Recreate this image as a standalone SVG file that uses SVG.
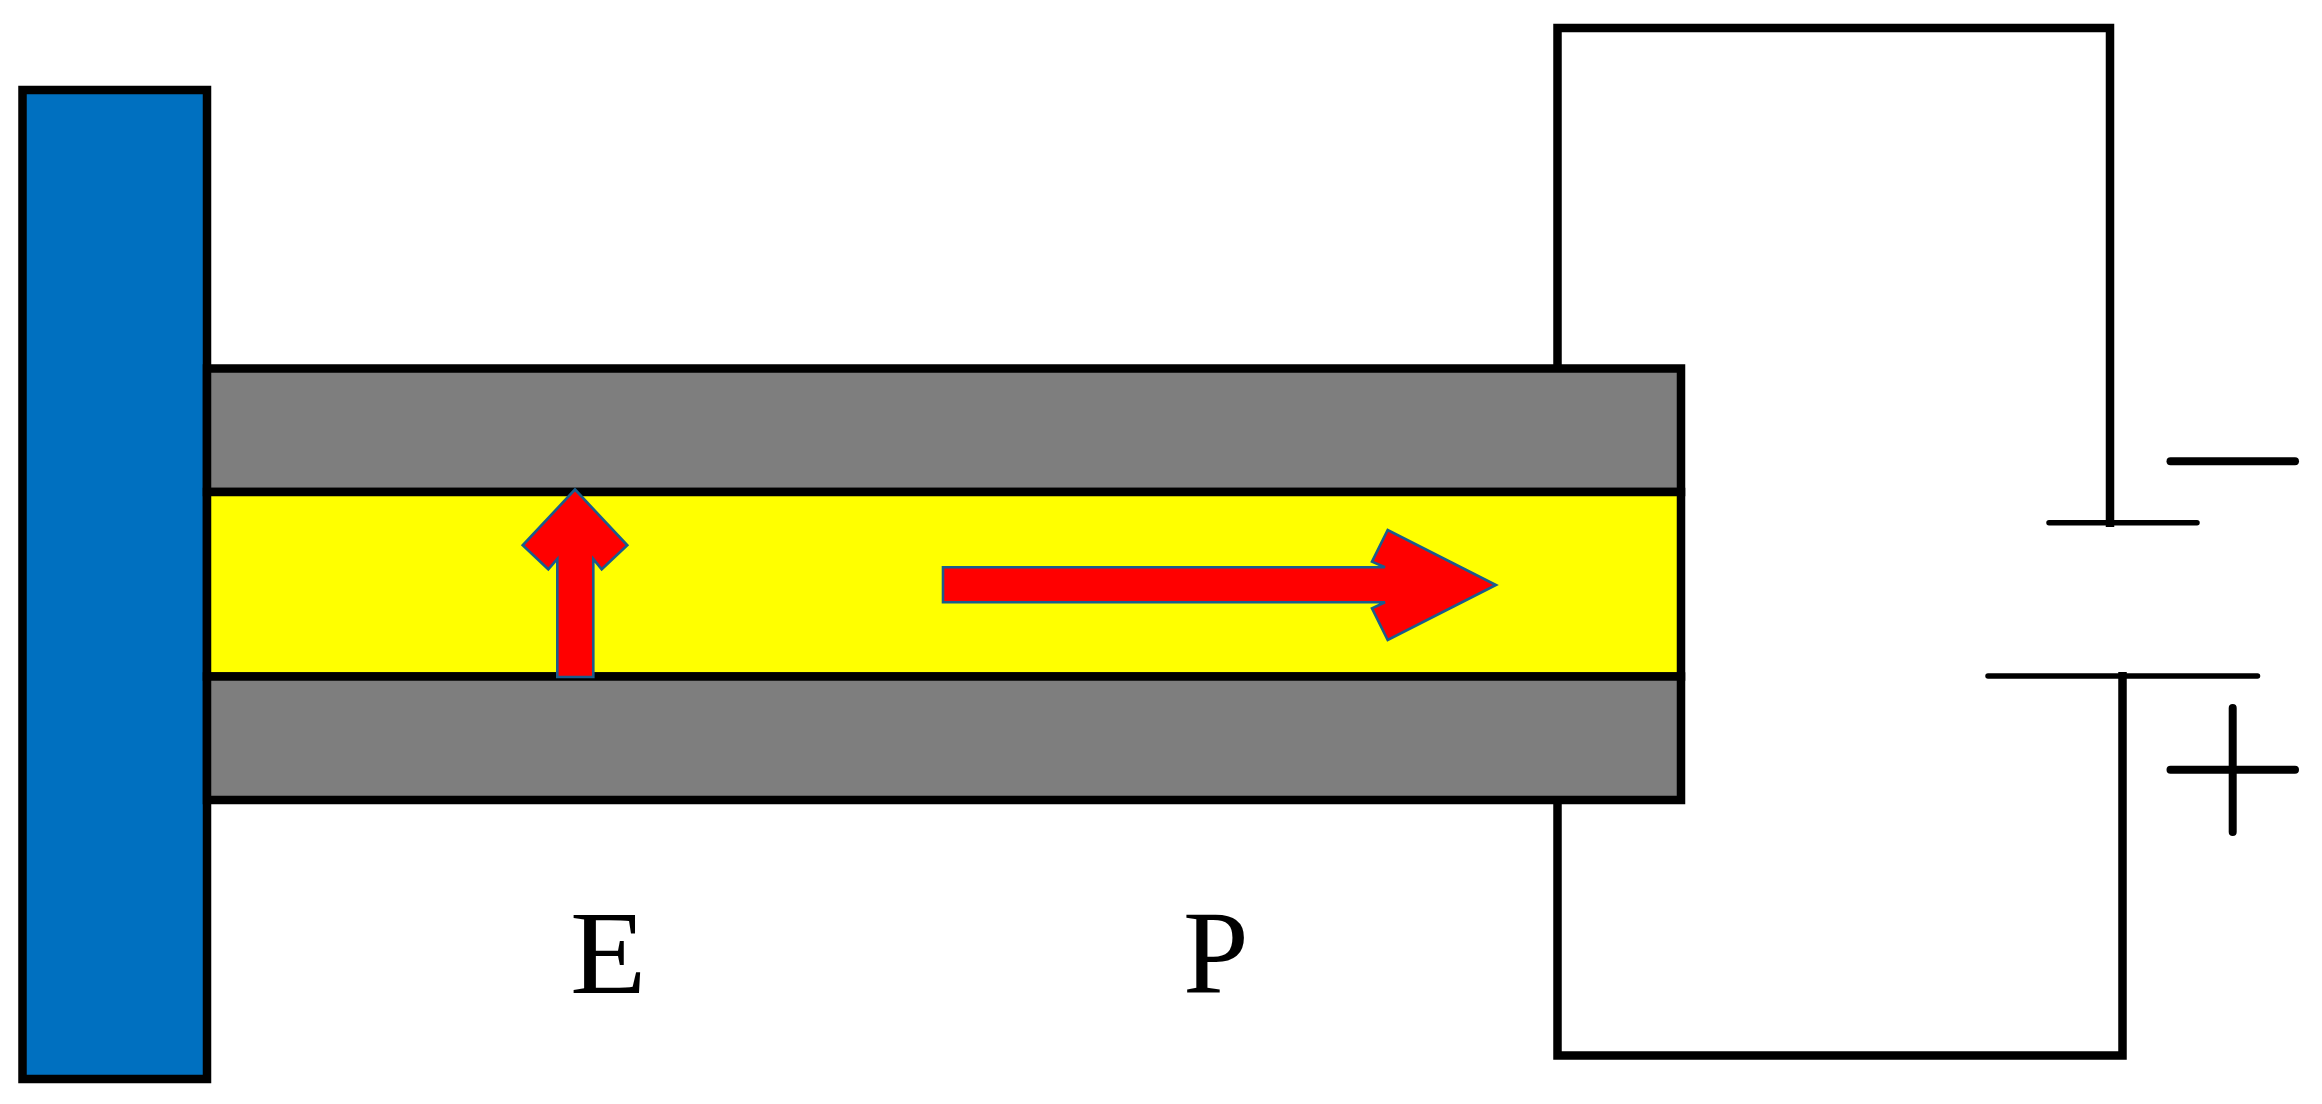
<svg xmlns="http://www.w3.org/2000/svg" width="2322" height="1104" viewBox="0 0 2322 1104">
<style>
.b{stroke:#000;stroke-width:8.5;fill:none}
.t{stroke:#000;stroke-width:5.5;stroke-linecap:round;fill:none}
.s{stroke:#000;stroke-width:8;stroke-linecap:round;fill:none}
.a{fill:#f00;stroke:#1a5c8c;stroke-width:2.6}
text{font-family:"Liberation Serif","Times New Roman",serif;font-size:118px;fill:#000}
</style>
<rect width="2322" height="1104" fill="#fff"/>
<g id="connectors">
<path class="b" d="M1557.500 368V28H2110V527"/>
<path class="b" d="M1557.500 800V1055.500H2122.500V672"/>
<path class="t" d="M2049 522.700H2197"/>
<path class="t" d="M1988 676H2257.500"/>
</g>
<g id="wall"><rect class="b" x="22.500" y="90" width="184.500" height="989" style="fill:#0070c0"/></g>
<g id="top-electrode"><rect class="b" x="207" y="368.500" width="1474" height="123.500" style="fill:#7e7e7e"/></g>
<g id="piezo"><rect class="b" x="207" y="492" width="1474" height="184.500" style="fill:#ff0"/></g>
<g id="bottom-electrode"><rect class="b" x="207" y="676.500" width="1474" height="123.500" style="fill:#7e7e7e"/></g>
<g id="arrow-e"><polygon class="a" points="575,489.500 627.300,545.300 601.700,569.300 593.300,559 593.300,677 557.300,677 557.300,559 548.300,569.300 522.700,545.300"/></g>
<g id="arrow-p"><polygon class="a" points="943,567.300 1385,567.300 1372,561.700 1387.700,530 1496,585 1387.700,640 1372,608.300 1385,602.300 943,602.300"/></g>
<g id="label-e"><text transform="translate(570 993) scale(1.06 1)">E</text></g>
<g id="label-p"><text transform="translate(1183 993)">P</text></g>
<g id="minus"><path class="s" d="M2170.500 461.300H2295"/></g>
<g id="plus"><path class="s" d="M2170.500 769.700H2295M2232.700 708V832"/></g>
</svg>
